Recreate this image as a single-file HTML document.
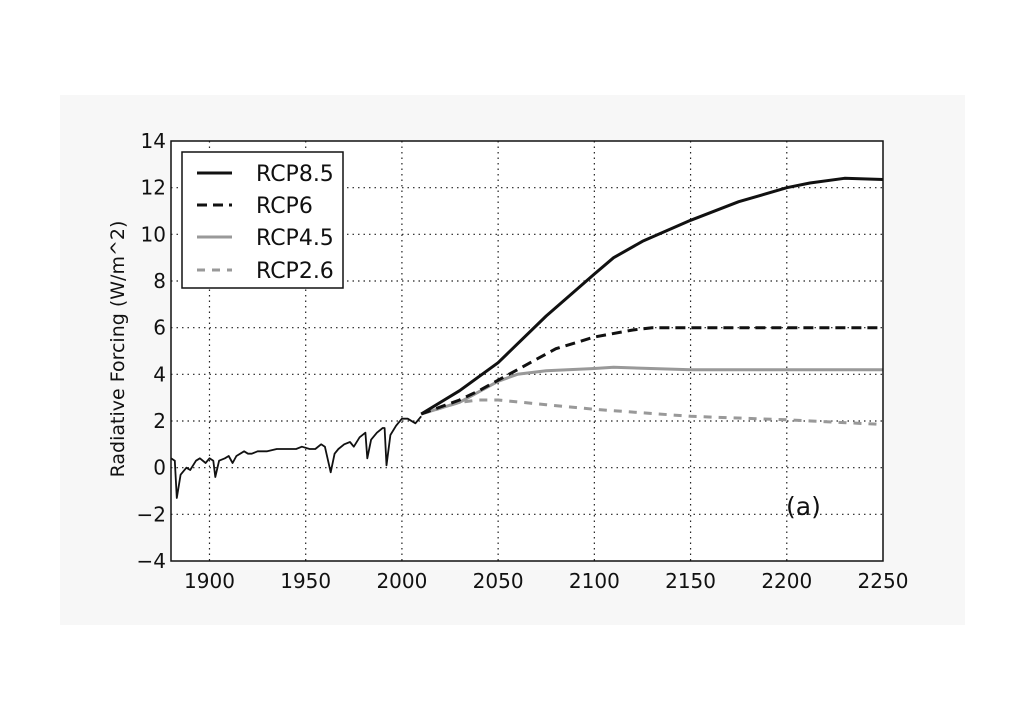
<!DOCTYPE html>
<html><head><meta charset="utf-8"><style>
html,body{margin:0;padding:0;background:#fff;}
svg{display:block;font-family:"DejaVu Sans","Liberation Sans",sans-serif;}
</style></head><body>
<svg id="chart" width="1024" height="718" viewBox="0 0 1024 718">
<rect x="60" y="95" width="905" height="530" fill="#f7f7f7"/>
<rect x="171" y="141" width="712" height="420" fill="#fff"/>
<g id="grid"></g>
<g id="series"></g>
<rect x="171" y="141" width="712" height="420" fill="none" stroke="#111" stroke-width="1.5"/>
<g id="ticks"></g>
<text x="124" y="349" font-size="19" text-anchor="middle" transform="rotate(-90 124 349)" fill="#111">Radiative Forcing (W/m^2)</text>
<text x="786" y="515" font-size="25" fill="#111">(a)</text>
<g>
<rect x="182" y="152" width="161" height="136" fill="#fff" stroke="#111" stroke-width="1.5"/>
<line x1="197" y1="173" x2="232" y2="173" stroke="#111" stroke-width="3"/>
<text x="256" y="181" font-size="22" fill="#111">RCP8.5</text>
<line x1="197" y1="205" x2="232" y2="205" stroke="#111" stroke-width="3" stroke-dasharray="10,6"/>
<text x="256" y="213" font-size="22" fill="#111">RCP6</text>
<line x1="197" y1="237" x2="232" y2="237" stroke="#999" stroke-width="3"/>
<text x="256" y="245" font-size="22" fill="#111">RCP4.5</text>
<line x1="197" y1="270" x2="232" y2="270" stroke="#999" stroke-width="3" stroke-dasharray="8,7"/>
<text x="256" y="278" font-size="22" fill="#111">RCP2.6</text>
</g>
</svg>
<script>
const xTicks=[1900,1950,2000,2050,2100,2150,2200,2250];
const yTicks=[-4,-2,0,2,4,6,8,10,12,14];
const histYears=[1880,1882,1883,1885,1888,1890,1893,1895,1898,1900,1902,1903,1905,1908,1910,1912,1914,1918,1920,1922,1925,1930,1935,1940,1945,1948,1952,1955,1958,1960,1963,1965,1967,1970,1973,1975,1978,1981,1982,1984,1987,1990,1991,1992,1994,1997,2000,2003,2007,2010];
const histVals=[0.4,0.3,-1.3,-0.3,0.0,-0.1,0.3,0.4,0.2,0.4,0.3,-0.4,0.3,0.4,0.5,0.2,0.5,0.7,0.6,0.6,0.7,0.7,0.8,0.8,0.8,0.9,0.8,0.8,1.0,0.9,-0.2,0.6,0.8,1.0,1.1,0.9,1.3,1.5,0.4,1.2,1.5,1.7,1.7,0.1,1.4,1.8,2.1,2.1,1.9,2.2];
const rcp85Years=[2010,2030,2050,2075,2100,2110,2125,2150,2175,2200,2212,2230,2250];
const rcp85Vals=[2.3,3.3,4.5,6.5,8.3,9.0,9.7,10.6,11.4,12.0,12.2,12.4,12.35];
const rcp6Years=[2010,2030,2040,2060,2080,2100,2120,2130,2250];
const rcp6Vals=[2.3,2.9,3.3,4.2,5.1,5.6,5.9,6.0,6.0];
const rcp45Years=[2010,2030,2050,2060,2075,2100,2110,2150,2250];
const rcp45Vals=[2.3,2.8,3.7,4.0,4.15,4.25,4.3,4.2,4.2];
const rcp26Years=[2010,2030,2040,2050,2075,2100,2150,2200,2250];
const rcp26Vals=[2.3,2.8,2.9,2.9,2.7,2.5,2.2,2.05,1.85];

const X0=171,X1=883,Y0=561,Y1=141;
const xs=v=>X0+(v-1880)/(2250-1880)*(X1-X0);
const ys=v=>Y0-(v+4)/18*(Y0-Y1);
const NS="http://www.w3.org/2000/svg";
const grid=document.getElementById('grid'),ticks=document.getElementById('ticks'),series=document.getElementById('series');
function mk(t,p,a){const e=document.createElementNS(NS,t);for(const k in a)e.setAttribute(k,a[k]);p.appendChild(e);return e;}
xTicks.forEach(v=>{
  const x=xs(v);
  if(v<2250){const g=mk('line',grid,{x1:x,y1:Y1,x2:x,y2:Y0,stroke:'#222','stroke-width':1.2,'stroke-dasharray':'1.5,4'});
  
  }
  const t=mk('text',ticks,{x:x,y:Y0+27,'font-size':20,'text-anchor':'middle',fill:'#111'});
  t.textContent=v;
  
  
});
yTicks.forEach(v=>{
  const y=ys(v);
  if(v>-4&&v<14){const g=mk('line',grid,{x1:X0,y1:y,x2:X1,y2:y,stroke:'#222','stroke-width':1.2,'stroke-dasharray':'1.5,4'});
  
  }
  const t=mk('text',ticks,{x:X0-5,y:y+7,'font-size':20,'text-anchor':'end',fill:'#111'});
  t.textContent=String(v).replace('-','\u2212');
  
  
});
function line(yrs,vals,style,name){
  const d=yrs.map((y,i)=>(i?'L':'M')+xs(y).toFixed(1)+','+ys(vals[i]).toFixed(1)).join(' ');
  const p=mk('path',series,Object.assign({d:d,fill:'none','stroke-linejoin':'round'},style));
  
  
}
line(rcp26Years,rcp26Vals,{stroke:'#999','stroke-width':3,'stroke-dasharray':'8,7'},'rcp26-line');
line(rcp45Years,rcp45Vals,{stroke:'#999','stroke-width':3},'rcp45-line');
line(rcp6Years,rcp6Vals,{stroke:'#111','stroke-width':3,'stroke-dasharray':'10,6'},'rcp6-line');
line(rcp85Years,rcp85Vals,{stroke:'#111','stroke-width':3},'rcp85-line');
line(histYears,histVals,{stroke:'#111','stroke-width':1.8},'historical-line');
</script>
</body></html>
